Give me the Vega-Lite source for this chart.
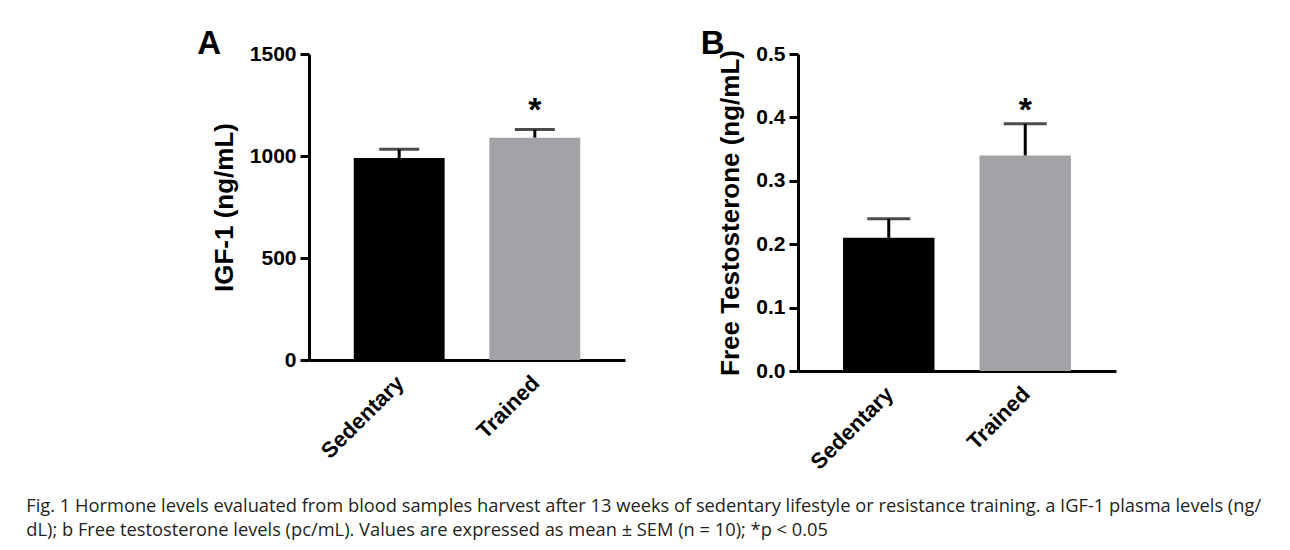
{
  "$schema": "https://vega.github.io/schema/vega-lite/v6.json",
  "autosize": {"type": "pad"},
  "padding": {"left": 26, "top": 28, "right": 10, "bottom": 6},
  "background": "white",
  "datasets": {
    "igf": [
      {"group": "Sedentary", "mean": 990, "upper": 1033, "sig": ""},
      {"group": "Trained", "mean": 1090, "upper": 1130, "sig": "*"}
    ],
    "testo": [
      {"group": "Sedentary", "mean": 0.21, "upper": 0.24, "sig": ""},
      {"group": "Trained", "mean": 0.34, "upper": 0.39, "sig": "*"}
    ]
  },
  "config": {
    "font": "Liberation Sans",
    "view": {"stroke": null},
    "axis": {
      "grid": false,
      "domainColor": "black",
      "domainWidth": 3,
      "tickColor": "black",
      "tickWidth": 3,
      "tickSize": 9,
      "labelFont": "Liberation Sans",
      "labelFontWeight": "bold",
      "labelFontSize": 21,
      "labelColor": "black",
      "labelPadding": 4,
      "titleFont": "Liberation Sans",
      "titleFontWeight": "bold",
      "titleFontSize": 26,
      "titleColor": "black",
      "titlePadding": 12
    }
  },
  "title": {
    "text": [
      "Fig. 1 Hormone levels evaluated from blood samples harvest after 13 weeks of sedentary lifestyle or resistance training. a IGF-1 plasma levels (ng/",
      "dL); b Free testosterone levels (pc/mL). Values are expressed as mean ± SEM (n = 10); *p < 0.05"
    ],
    "orient": "bottom",
    "anchor": "start",
    "frame": "bounds",
    "font": "Open Sans",
    "fontSize": 18.3,
    "fontWeight": "normal",
    "color": "#231f20",
    "lineHeight": 24,
    "offset": 25,
    "dx": -171
  },
  "spacing": 75,
  "hconcat": [
    {
      "width": 316,
      "height": 306,
      "title": {"text": "A", "anchor": "start", "frame": "bounds", "fontSize": 33, "fontWeight": "bold", "color": "black", "offset": -18, "dx": -14},
      "data": {"name": "igf"},
      "encoding": {
        "x": {
          "field": "group", "type": "nominal", "sort": null,
          "scale": {"paddingInner": 0.33, "paddingOuter": 0.33},
          "axis": {"title": null, "labelAngle": -45, "ticks": false, "labelPadding": 12, "labelFontSize": 22, "labelOffset": -6}
        }
      },
      "layer": [
        {
          "mark": {"type": "bar"},
          "encoding": {
            "y": {"field": "mean", "type": "quantitative", "scale": {"domain": [0, 1500], "nice": false}, "axis": {"title": "IGF-1 (ng/mL)", "values": [0, 500, 1000, 1500], "format": "d"}},
            "color": {"field": "group", "type": "nominal", "sort": null, "scale": {"range": ["#000000", "#a3a2a7"]}, "legend": null}
          }
        },
        {
          "mark": {"type": "rule", "strokeWidth": 3, "color": "black"},
          "encoding": {
            "y": {"field": "mean", "type": "quantitative", "axis": {"title": "IGF-1 (ng/mL)", "values": [0, 500, 1000, 1500], "format": "d"}},
            "y2": {"field": "upper"}
          }
        },
        {
          "mark": {"type": "tick", "orient": "horizontal", "size": 40, "thickness": 3, "color": "black"},
          "encoding": {
            "y": {"field": "upper", "type": "quantitative", "axis": {"title": "IGF-1 (ng/mL)", "values": [0, 500, 1000, 1500], "format": "d"}}
          }
        },
        {
          "mark": {"type": "text", "fontSize": 34, "fontWeight": "bold", "color": "black", "baseline": "middle", "dy": -18},
          "encoding": {
            "y": {"field": "upper", "type": "quantitative", "axis": {"title": "IGF-1 (ng/mL)", "values": [0, 500, 1000, 1500], "format": "d"}},
            "text": {"field": "sig"}
          }
        }
      ]
    },
    {
      "width": 318,
      "height": 317,
      "title": {"text": "B", "anchor": "start", "frame": "bounds", "fontSize": 33, "fontWeight": "bold", "color": "black", "offset": -18, "dx": -17},
      "data": {"name": "testo"},
      "encoding": {
        "x": {
          "field": "group", "type": "nominal", "sort": null,
          "scale": {"paddingInner": 0.33, "paddingOuter": 0.33},
          "axis": {"title": null, "labelAngle": -45, "ticks": false, "labelPadding": 12, "labelFontSize": 22, "labelOffset": -6}
        }
      },
      "layer": [
        {
          "mark": {"type": "bar"},
          "encoding": {
            "y": {"field": "mean", "type": "quantitative", "scale": {"domain": [0, 0.5], "nice": false}, "axis": {"title": "Free Testosterone (ng/mL)", "values": [0, 0.1, 0.2, 0.3, 0.4, 0.5], "format": ".1f"}},
            "color": {"field": "group", "type": "nominal", "sort": null, "scale": {"range": ["#000000", "#a3a2a7"]}, "legend": null}
          }
        },
        {
          "mark": {"type": "rule", "strokeWidth": 3, "color": "black"},
          "encoding": {
            "y": {"field": "mean", "type": "quantitative", "axis": {"title": "Free Testosterone (ng/mL)", "values": [0, 0.1, 0.2, 0.3, 0.4, 0.5], "format": ".1f"}},
            "y2": {"field": "upper"}
          }
        },
        {
          "mark": {"type": "tick", "orient": "horizontal", "size": 43, "thickness": 3, "color": "black"},
          "encoding": {
            "y": {"field": "upper", "type": "quantitative", "axis": {"title": "Free Testosterone (ng/mL)", "values": [0, 0.1, 0.2, 0.3, 0.4, 0.5], "format": ".1f"}}
          }
        },
        {
          "mark": {"type": "text", "fontSize": 34, "fontWeight": "bold", "color": "black", "baseline": "middle", "dy": -13},
          "encoding": {
            "y": {"field": "upper", "type": "quantitative", "axis": {"title": "Free Testosterone (ng/mL)", "values": [0, 0.1, 0.2, 0.3, 0.4, 0.5], "format": ".1f"}},
            "text": {"field": "sig"}
          }
        }
      ]
    }
  ],
  "resolve": {"scale": {"y": "independent", "color": "independent", "x": "independent"}}
}
